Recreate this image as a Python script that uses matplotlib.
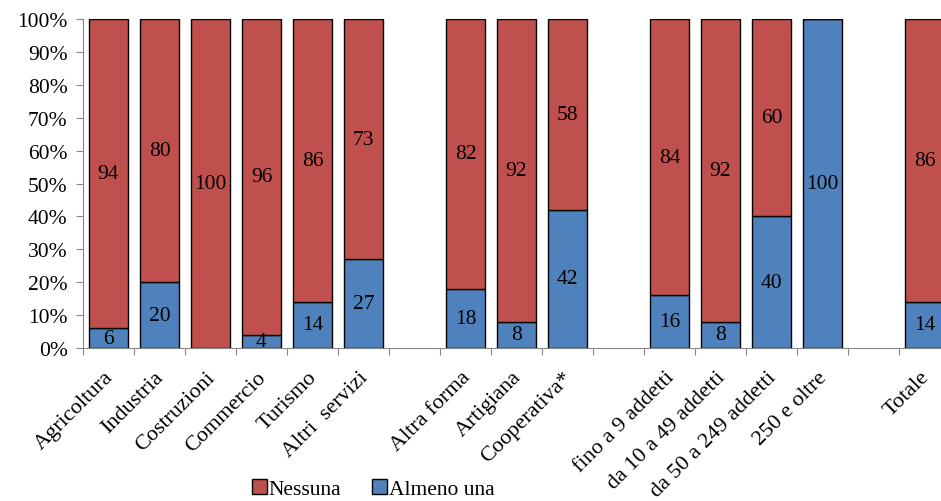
import numpy as np
import matplotlib
matplotlib.use("Agg")
import matplotlib.pyplot as plt
from matplotlib.ticker import PercentFormatter
from matplotlib.transforms import ScaledTranslation

plt.rcParams['font.family'] = ['Liberation Serif', 'DejaVu Serif']

# categories, with empty slots ("") between the groups
categories = ["Agricoltura", "Industria", "Costruzioni", "Commercio", "Turismo",
              "Altri  servizi", "",
              "Altra forma", "Artigiana", "Cooperativa*", "",
              "fino a 9 addetti", "da 10 a 49 addetti", "da 50 a 249 addetti",
              "250 e oltre", "",
              "Totale"]
almeno_una = [6, 20, 0, 4, 14, 27, np.nan, 18, 8, 42, np.nan, 16, 8, 40, 100, np.nan, 14]
nessuna = [94, 80, 100, 96, 86, 73, np.nan, 82, 92, 58, np.nan, 84, 92, 60, 0, np.nan, 86]

blue = "#4F81BD"
red = "#C0504D"

fig = plt.figure(figsize=(9.41, 5.02), dpi=100)
ax = fig.add_axes([83 / 941, 1 - 349 / 502, 867 / 941, 329 / 502])

x = np.arange(len(categories))
blu = np.nan_to_num(almeno_una)
rd = np.nan_to_num(nessuna)
mask = ~np.isnan(np.array(almeno_una, dtype=float))

b1 = ax.bar(x[mask], blu[mask], width=0.78, color=blue, edgecolor="black", linewidth=1.0,
            label="Almeno una")
b2 = ax.bar(x[mask], rd[mask], bottom=blu[mask], width=0.78, color=red, edgecolor="black",
            linewidth=1.0, label="Nessuna")

for xi, v1, v2 in zip(x[mask], blu[mask], rd[mask]):
    if v1 > 0:
        ax.text(xi, v1 / 2, f"{v1:g}", ha="center", va="center", fontsize=15.5)
    if v2 > 0:
        ax.text(xi, v1 + v2 / 2, f"{v2:g}", ha="center", va="center", fontsize=15.5)

ax.set_xlim(-0.5, len(categories) - 0.5)
ax.set_ylim(0, 100)
ax.set_yticks(np.arange(0, 101, 10))
ax.yaxis.set_major_formatter(PercentFormatter(decimals=0))

ax.set_xticks(np.arange(-0.5, len(categories), 1.0), minor=False)
ax.set_xticklabels([])
ax.set_xticks(x, minor=True)
ax.set_xticklabels(categories, minor=True, rotation=45, ha="right", rotation_mode="anchor",
                   fontsize=16)
ax.tick_params(axis="x", which="minor", length=0, pad=14)
ax.tick_params(axis="x", which="major", length=5, color="#888888")
ax.tick_params(axis="y", length=5, color="#888888", labelsize=15.5, pad=6)

shift = ScaledTranslation(-5 / 100, 0, fig.dpi_scale_trans)
for lbl in ax.get_xticklabels(minor=True):
    lbl.set_transform(lbl.get_transform() + shift)

for s in ["top", "right"]:
    ax.spines[s].set_visible(False)
for s in ["left", "bottom"]:
    ax.spines[s].set_color("#888888")

fig.legend(handles=[b2, b1], labels=["Nessuna", "Almeno una"], loc="center",
           bbox_to_anchor=(373 / 941, 1 - 490 / 502), ncol=2, frameon=False,
           fontsize=15.5, handlelength=0.7, handleheight=0.7, handletextpad=0.1,
           columnspacing=1.4, borderpad=0)

fig.savefig("out.png", dpi=100)
